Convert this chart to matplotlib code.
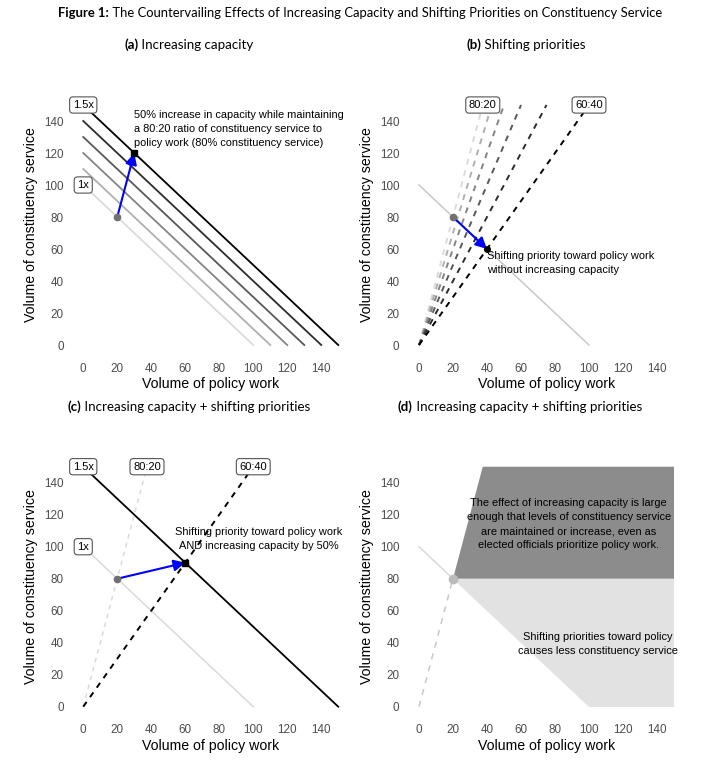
import matplotlib
matplotlib.use("Agg")
import matplotlib.pyplot as plt
import numpy as np

# ── data ────────────────────────────────────────────────────────────────────
capacities = [100, 110, 120, 130, 140, 150]          # x + y = C
ratio_slopes = [4.0, 3.5, 3.0, 2.5, 2.0, 1.5]        # y = k * x  (80:20 ... 60:40)
ticks = [0, 20, 40, 60, 80, 100, 120, 140]
top = 150

start_pt = (20, 80)
pt_a = (30, 120)
pt_b = (40, 60)
pt_c = (60, 90)

dark_poly_x = [20, 37.5, 150, 150]
dark_poly_y = [80, 150, 150, 80]
light_poly_x = [20, 150, 150, 100]
light_poly_y = [80, 80, 0, 0]

text_a = ("50% increase in capacity while maintaining\n"
          "a 80:20 ratio of constituency service to\n"
          "policy work (80% constituency service)")
text_b = "Shifting priority toward policy work\nwithout increasing capacity"
text_c = "Shifting priority toward policy work\nAND increasing capacity by 50%"
text_d1 = ("The effect of increasing capacity is large\n"
           "enough that levels of constituency service\n"
           "are maintained or increase, even as\n"
           "elected officials prioritize policy work.")
text_d2 = "Shifting priorities toward policy\ncauses less constituency service"

W, H = 720, 771
SANS = "Liberation Sans"
TFONT = "Lato"
ANN = 7.9
LS = 1.5

fig = plt.figure(figsize=(W / 100, H / 100), dpi=100)


def ax_at(left, bottom_px, width=280.5, height=264):
    return fig.add_axes([left / W, 1 - bottom_px / H, width / W, height / H])


def style(ax):
    ax.set_xlim(-7.5, 157.5)
    ax.set_ylim(-7.5, 157.5)
    for s in ax.spines.values():
        s.set_visible(False)
    ax.set_xticks(ticks)
    ax.set_yticks(ticks)
    ax.tick_params(length=0, labelsize=8.4, labelcolor="#4D4D4D")
    ax.tick_params(axis="x", pad=4)
    ax.tick_params(axis="y", pad=5)
    for lab in ax.get_xticklabels() + ax.get_yticklabels():
        lab.set_family(SANS)
    ax.set_xlabel("Volume of policy work", family=SANS, fontsize=10.2, labelpad=2)
    ax.set_ylabel("Volume of constituency service", family=SANS, fontsize=10.2, labelpad=4)


def box_label(ax, x, y, s):
    ax.text(x, y, s, ha="center", va="center", family=SANS, fontsize=8, zorder=10,
            bbox=dict(boxstyle="round,pad=0.28,rounding_size=0.3", fc="white",
                      ec="#555555", lw=0.8))


def arrow(ax, p0, p1):
    ax.annotate("", xy=p1, xytext=p0, zorder=6,
                arrowprops=dict(arrowstyle="-|>", color="blue", lw=1.5,
                                mutation_scale=17, shrinkA=0, shrinkB=0))


grey_levels = np.linspace(0.86, 0.0, len(capacities))

# ── (a) increasing capacity ─────────────────────────────────────────────────
ax = ax_at(70.5, 357)
style(ax)
for C, g in zip(capacities, grey_levels):
    ax.plot([0, C], [C, 0], color=str(g), lw=1.3, zorder=2)
arrow(ax, start_pt, pt_a)
ax.plot(*start_pt, "o", color="#707070", ms=4.5, zorder=7)
ax.plot(*pt_a, "s", color="black", ms=4.5, zorder=7)
box_label(ax, 0, 100, "1x")
box_label(ax, 0, 150, "1.5x")
ax.text(30, 135, text_a, ha="left", va="center", family=SANS, fontsize=ANN,
        linespacing=LS, zorder=8)

# ── (b) shifting priorities ─────────────────────────────────────────────────
ax = ax_at(406.25, 357)
style(ax)
ax.plot([0, 100], [100, 0], color="#C8C8C8", lw=1.1, zorder=1)
for k, g in zip(ratio_slopes, grey_levels):
    ax.plot([0, top / k], [0, top], color=str(g), lw=1.4, ls=(0, (3, 3)), zorder=2)
arrow(ax, start_pt, pt_b)
ax.plot(*start_pt, "o", color="#707070", ms=4.5, zorder=7)
ax.plot(*pt_b, "o", color="black", ms=4, zorder=7)
box_label(ax, top / ratio_slopes[0], top, "80:20")
box_label(ax, top / ratio_slopes[-1], top, "60:40")
ax.text(40, 51, text_b, ha="left", va="center", family=SANS, fontsize=ANN,
        linespacing=LS, zorder=8)

# ── (c) capacity + priorities ───────────────────────────────────────────────
ax = ax_at(70.5, 718.7)
style(ax)
ax.plot([0, 100], [100, 0], color="#DADADA", lw=1.1, zorder=1)
ax.plot([0, 150], [150, 0], color="black", lw=1.3, zorder=2)
ax.plot([0, top / ratio_slopes[0]], [0, top], color="#DADADA", lw=1.1,
        ls=(0, (3, 3)), zorder=1)
ax.plot([0, top / ratio_slopes[-1]], [0, top], color="black", lw=1.4,
        ls=(0, (3, 3)), zorder=2)
arrow(ax, start_pt, pt_c)
ax.plot(*start_pt, "o", color="#707070", ms=4.5, zorder=7)
ax.plot(*pt_c, "s", color="black", ms=4.5, zorder=7)
box_label(ax, 0, 100, "1x")
box_label(ax, 0, 150, "1.5x")
box_label(ax, top / ratio_slopes[0], top, "80:20")
box_label(ax, top / ratio_slopes[-1], top, "60:40")
ax.text(103, 105, text_c, ha="center", va="center", family=SANS, fontsize=ANN,
        linespacing=LS, zorder=8)

# ── (d) regions ─────────────────────────────────────────────────────────────
ax = ax_at(406.25, 718.7)
style(ax)
ax.fill(dark_poly_x, dark_poly_y, color="#8C8C8C", lw=0, zorder=1)
ax.fill(light_poly_x, light_poly_y, color="#E2E2E2", lw=0, zorder=1)
ax.plot([0, 20], [100, 80], color="#DADADA", lw=1.1, zorder=2)
ax.plot([0, 20], [0, 80], color="#C8C8C8", lw=1.1, ls=(0, (4, 4)), zorder=2)
ax.plot(*start_pt, "o", color="#BBBBBB", ms=6, zorder=7)
ax.text(88, 114, text_d1, ha="center", va="center", family=SANS, fontsize=ANN,
        linespacing=LS, zorder=8)
ax.text(105, 39, text_d2, ha="center", va="center", family=SANS, fontsize=ANN,
        linespacing=LS, zorder=8)


# ── titles with bold prefixes ───────────────────────────────────────────────
def bold_title(px, py, bold, rest, size):
    r = fig.canvas.get_renderer()
    t1 = fig.text(0, 1 - py / H, bold, weight="bold", family=TFONT, fontsize=size,
                  va="center", ha="left")
    t2 = fig.text(0, 1 - py / H, " " + rest, family=TFONT, fontsize=size,
                  va="center", ha="left")
    w1 = t1.get_window_extent(r).width
    w2 = t2.get_window_extent(r).width
    x0 = px - (w1 + w2) / 2
    t1.set_x(x0 / W)
    t2.set_x((x0 + w1) / W)


bold_title(360, 13, "Figure 1:",
           "The Countervailing Effects of Increasing Capacity and Shifting "
           "Priorities on Constituency Service", 9.4)
bold_title(189, 45, "(a)", "Increasing capacity", 9.6)
bold_title(526, 45, "(b)", "Shifting priorities", 9.6)
bold_title(189, 407, "(c)", "Increasing capacity + shifting priorities", 9.6)
bold_title(520, 407, "(d)", "Increasing capacity + shifting priorities", 9.6)

fig.savefig("out.png", dpi=100)
